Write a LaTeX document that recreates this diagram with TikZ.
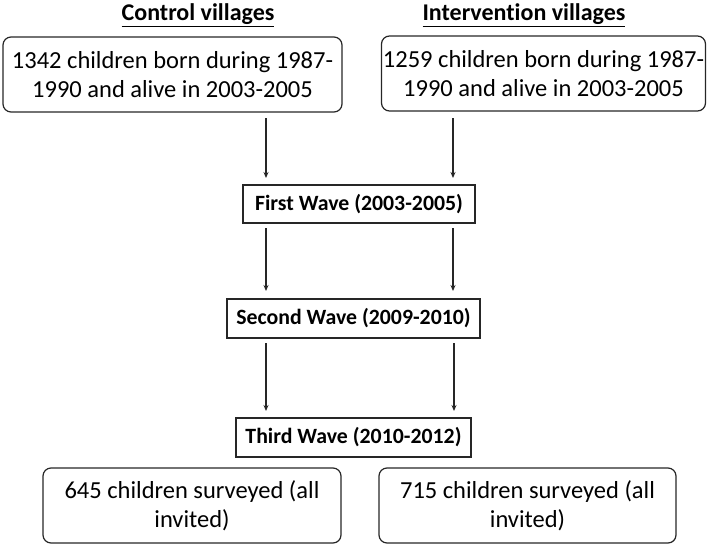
\documentclass[tikz,border=0pt]{standalone}
\usepackage{fontspec}
\setmainfont{Carlito}[Ligatures={NoCommon}]
\usetikzlibrary{arrows.meta}
\begin{document}
\begin{tikzpicture}[x=1pt,y=1pt,
  title/.style={font=\fontsize{24}{28}\selectfont\bfseries, inner sep=0pt},
  roundbox/.style={draw=black!85, line width=1.2pt, rounded corners=8pt, align=center,
     font=\fontsize{24.5}{29}\selectfont, inner sep=0pt},
  wavebox/.style={draw=black!85, line width=1.8pt, align=center,
     font=\fontsize{21.8}{25}\selectfont\bfseries, inner sep=0pt},
  arr/.style={draw=black!85, line width=1.1pt, -{Stealth[length=6pt,width=5pt]}}]
\useasboundingbox (0,0) rectangle (709,-546);
% titles
\node[title] (t1) at (198,-15) {\underline{Control villages}};
\node[title] (t2) at (524,-15) {\underline{Intervention villages}};
% top boxes
\node[roundbox, minimum width=339pt, minimum height=75pt] (b1) at (172.5,-74.5)
  {1342 children born during 1987-\\1990 and alive in 2003-2005};
\node[roundbox, minimum width=324pt, minimum height=75pt] (b2) at (543.5,-73.5)
  {1259 children born during 1987-\\1990 and alive in 2003-2005};
% wave boxes
\node[wavebox, minimum width=232pt, minimum height=38pt] (w1) at (359,-204) {First Wave (2003-2005)};
\node[wavebox, minimum width=253pt, minimum height=39pt] (w2) at (353.5,-318.5) {Second Wave (2009-2010)};
\node[wavebox, minimum width=235pt, minimum height=39pt] (w3) at (353.5,-437.5) {Third Wave (2010-2012)};
% bottom boxes
\node[roundbox, minimum width=298pt, minimum height=75pt] (c1) at (192,-505.5)
  {645 children surveyed (all\\invited)};
\node[roundbox, minimum width=297pt, minimum height=75pt] (c2) at (527.5,-505.5)
  {715 children surveyed (all\\invited)};
% arrow end points
\coordinate (l1s) at (266,-118); \coordinate (l1e) at (266,-178);
\coordinate (r1s) at (453,-118); \coordinate (r1e) at (453,-178);
\coordinate (l2s) at (266,-228); \coordinate (l2e) at (266,-291);
\coordinate (r2s) at (453,-228); \coordinate (r2e) at (453,-291);
\coordinate (l3s) at (266,-343); \coordinate (l3e) at (266,-411);
\coordinate (r3s) at (454,-343); \coordinate (r3e) at (454,-411);
\draw[arr] (l1s) -- (l1e);
\draw[arr] (r1s) -- (r1e);
\draw[arr] (l2s) -- (l2e);
\draw[arr] (r2s) -- (r2e);
\draw[arr] (l3s) -- (l3e);
\draw[arr] (r3s) -- (r3e);
\end{tikzpicture}
\end{document}
